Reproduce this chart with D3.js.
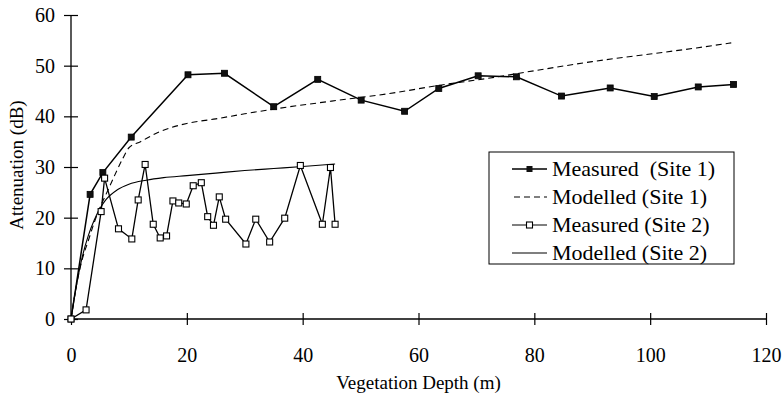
<!DOCTYPE html>
<html>
<head>
<meta charset="utf-8">
<script src="https://cdn.jsdelivr.net/npm/d3@7"></script>
<style>
  html, body { margin: 0; padding: 0; background: #fff; }
  svg text { font-family: "Liberation Serif", "Times New Roman", serif; fill: #000; }
</style>
</head>
<body>
<svg id="chart" width="784" height="394"></svg>
<script>
// ---- data ----
const xTicks = [0, 20, 40, 60, 80, 100, 120];
const yTicks = [0, 10, 20, 30, 40, 50, 60];

const measured1X = [0, 3.3, 5.5, 10.4, 20.2, 26.5, 35.0, 42.6, 50.1, 57.6, 63.5, 70.3, 76.9, 84.7, 93.1, 100.7, 108.3, 114.4];
const measured1Y = [0, 24.6, 28.9, 35.9, 48.2, 48.5, 41.9, 47.3, 43.2, 41.0, 45.5, 48.0, 47.8, 44.0, 45.6, 43.9, 45.8, 46.3];

const modelled1X = [0, 1, 2, 3, 4, 5, 6, 7, 8, 9, 10, 12, 15, 20, 25, 30, 36, 45, 55, 64, 72, 80, 90, 100, 108, 114];
const modelled1Y = [0, 7, 12, 15.5, 19, 22, 24.5, 27, 29.5, 31.8, 33.8, 35, 36.8, 38.6, 39.5, 40.5, 41.6, 43, 44.5, 46.2, 47.5, 49, 50.8, 52.3, 53.5, 54.5];

const measured2X = [0, 2.6, 5.2, 5.8, 8.2, 10.5, 11.6, 12.8, 14.2, 15.4, 16.5, 17.6, 18.6, 19.9, 21.1, 22.5, 23.6, 24.6, 25.6, 26.7, 30.2, 31.9, 34.3, 36.9, 39.6, 43.4, 44.8, 45.6];
const measured2Y = [0, 1.8, 21.2, 27.8, 17.8, 15.8, 23.5, 30.5, 18.7, 16.0, 16.4, 23.3, 22.9, 22.7, 26.3, 26.9, 20.2, 18.5, 24.1, 19.7, 14.8, 19.7, 15.2, 19.9, 30.3, 18.7, 29.9, 18.7];

const modelled2X = [0, 1, 2, 3, 4, 5, 6, 8, 10, 13, 16, 20, 25, 30, 35, 40, 45.6];
const modelled2Y = [0, 7, 12.5, 16.5, 19.5, 21.8, 23.5, 25.5, 26.6, 27.4, 27.9, 28.3, 28.8, 29.3, 29.7, 30.1, 30.6];

const legendLabels = ["Measured  (Site 1)", "Modelled (Site 1)", "Measured (Site 2)", "Modelled (Site 2)"];
const xTitle = "Vegetation Depth (m)";
const yTitle = "Attenuation (dB)";

// ---- drawing ----
const svg = d3.select("#chart");
const x = d3.scaleLinear().domain([0, 120]).range([71, 766]);
const y = d3.scaleLinear().domain([0, 60]).range([319, 15]);
const FS = 20;

const zip = (xs, ys) => xs.map((v, i) => [v, ys[i]]);

// axes
const xAxis = svg.append("g").attr("transform", `translate(0,${y(0)})`)
  .call(d3.axisBottom(x).tickValues(xTicks).tickSize(0).tickPadding(0).tickFormat(d3.format("d")));
xAxis.select(".domain").attr("stroke", "#000").attr("stroke-width", 1.3).attr("d", `M${x(0)},0H${x(120)}`);
xAxis.selectAll(".tick line").attr("y1", -6).attr("y2", 6).attr("stroke", "#000").attr("stroke-width", 1.2);
xAxis.selectAll(".tick text").attr("y", 43).attr("dy", null).attr("font-size", FS).attr("font-family", "Liberation Serif");

const yAxis = svg.append("g").attr("transform", `translate(${x(0)},0)`)
  .call(d3.axisLeft(y).tickValues(yTicks).tickSize(0).tickPadding(0).tickFormat(d3.format("d")));
yAxis.select(".domain").attr("stroke", "#000").attr("stroke-width", 1.3).attr("d", `M0,${y(60)}V${y(0)}`);
yAxis.selectAll(".tick line").attr("x1", -7).attr("x2", 7).attr("stroke", "#000").attr("stroke-width", 1.2);
yAxis.selectAll(".tick text").attr("x", -16).attr("dy", "0.33em").attr("font-size", FS).attr("font-family", "Liberation Serif");

// titles
svg.append("text").attr("x", (x(0) + x(120)) / 2).attr("y", 389)
  .attr("text-anchor", "middle").attr("font-size", 19).text(xTitle);
svg.append("text").attr("transform", `translate(23,${(y(0) + y(60)) / 2 - 2}) rotate(-90)`)
  .attr("text-anchor", "middle").attr("font-size", 19).text(yTitle);

const line = d3.line().x(d => x(d[0])).y(d => y(d[1]));
const smooth = d3.line().x(d => x(d[0])).y(d => y(d[1])).curve(d3.curveMonotoneX);

// modelled curves
svg.append("path").datum(zip(modelled1X, modelled1Y)).attr("d", smooth)
  .attr("fill", "none").attr("stroke", "#000").attr("stroke-width", 1.1).attr("stroke-dasharray", "6,4");
svg.append("path").datum(zip(modelled2X, modelled2Y)).attr("d", smooth)
  .attr("fill", "none").attr("stroke", "#000").attr("stroke-width", 1.1);

// measured site 2
const m2 = zip(measured2X, measured2Y);
svg.append("path").datum(m2).attr("d", line)
  .attr("fill", "none").attr("stroke", "#000").attr("stroke-width", 1.3);
// measured site 1
const m1 = zip(measured1X, measured1Y);
svg.append("path").datum(m1).attr("d", line)
  .attr("fill", "none").attr("stroke", "#000").attr("stroke-width", 1.5);

const S = 6;
svg.append("g").selectAll("rect").data(m1).join("rect")
  .attr("x", d => x(d[0]) - S / 2).attr("y", d => y(d[1]) - S / 2)
  .attr("width", S).attr("height", S).attr("fill", "#111").attr("stroke", "#000").attr("stroke-width", 0.8);
svg.append("g").selectAll("rect").data(m2).join("rect")
  .attr("x", d => x(d[0]) - S / 2).attr("y", d => y(d[1]) - S / 2)
  .attr("width", S).attr("height", S).attr("fill", "#fff").attr("stroke", "#000").attr("stroke-width", 1.1);

// legend
const lg = svg.append("g");
const lx0 = 489, ly0 = 152, lw = 245, lh = 112;
lg.append("rect").attr("x", lx0).attr("y", ly0).attr("width", lw).attr("height", lh)
  .attr("fill", "#fff").attr("stroke", "#000").attr("stroke-width", 1);
const rowY = i => ly0 + 17 + i * 28;
legendLabels.forEach((lab, i) => {
  const yy = rowY(i);
  const l = lg.append("line").attr("x1", 512).attr("x2", 547).attr("y1", yy).attr("y2", yy)
    .attr("stroke", "#000").attr("stroke-width", i === 0 ? 1.5 : 1.2);
  if (i === 1) l.attr("stroke-dasharray", "6,4").attr("x1", 514);
  if (i === 0) lg.append("rect").attr("x", 529.5 - S / 2).attr("y", yy - S / 2).attr("width", S).attr("height", S).attr("fill", "#111");
  if (i === 2) lg.append("rect").attr("x", 529.5 - S / 2).attr("y", yy - S / 2).attr("width", S).attr("height", S)
    .attr("fill", "#fff").attr("stroke", "#000").attr("stroke-width", 1.1);
  lg.append("text").attr("x", 552).attr("y", yy).attr("dy", "0.33em").attr("font-size", 22)
    .attr("xml:space", "preserve").style("white-space", "pre").text(lab);
});
</script>
</body>
</html>
